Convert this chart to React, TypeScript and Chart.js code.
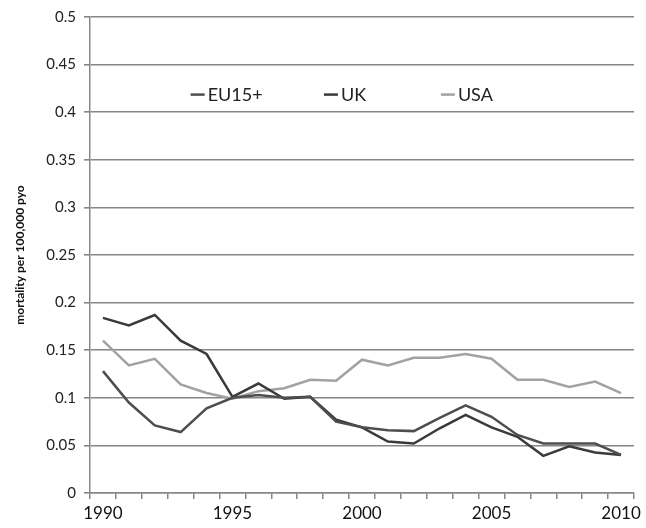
import React, { useEffect, useRef } from "react";
import { Chart, registerables } from "chart.js";

Chart.register(...registerables);

const years = [
  "1990", "1991", "1992", "1993", "1994", "1995", "1996", "1997", "1998", "1999", "2000",
  "2001", "2002", "2003", "2004", "2005", "2006", "2007", "2008", "2009", "2010",
];
const eu15 = [
  0.128, 0.095, 0.071, 0.064, 0.089, 0.1, 0.103, 0.1, 0.101, 0.075, 0.069,
  0.066, 0.065, 0.079, 0.092, 0.08, 0.061, 0.052, 0.052, 0.052, 0.04,
];
const uk = [
  0.184, 0.176, 0.187, 0.16, 0.146, 0.101, 0.115, 0.099, 0.101, 0.077, 0.069,
  0.054, 0.052, 0.068, 0.082, 0.069, 0.059, 0.039, 0.049, 0.0425, 0.04,
];
const usa = [
  0.16, 0.134, 0.141, 0.114, 0.105, 0.099, 0.107, 0.11, 0.119, 0.118, 0.14,
  0.134, 0.142, 0.142, 0.146, 0.141, 0.119, 0.119, 0.1115, 0.117, 0.105,
];
const seriesNames = ["EU15+", "UK", "USA"];
const seriesColors = ["#4e4e4e", "#3a3a3a", "#a2a2a2"];
const FONT = "Lato, 'Open Sans', sans-serif";

const insideLegend = {
  id: "insideLegend",
  afterDraw(chart: any) {
    const { ctx, chartArea } = chart;
    const w = chartArea.right - chartArea.left;
    const h = chartArea.bottom - chartArea.top;
    const fracs = [0.185, 0.43, 0.645];
    const y = chartArea.top + h * 0.163;
    ctx.save();
    ctx.font = `18px ${FONT}`;
    ctx.textBaseline = "middle";
    chart.data.datasets.forEach((ds: any, i: number) => {
      const x = chartArea.left + w * fracs[i];
      ctx.strokeStyle = ds.borderColor;
      ctx.lineWidth = 2.5;
      ctx.beginPath();
      ctx.moveTo(x, y);
      ctx.lineTo(x + 14, y);
      ctx.stroke();
      ctx.fillStyle = "#222";
      ctx.fillText(ds.label, x + 17, y + 1);
    });
    ctx.restore();
  },
};

export default function App() {
  const ref = useRef<HTMLCanvasElement | null>(null);
  useEffect(() => {
    document.body.style.margin = "0";
    const chart = new Chart(ref.current as HTMLCanvasElement, {
      type: "line",
      data: {
        labels: years,
        datasets: [eu15, uk, usa].map((d, i) => ({
          label: seriesNames[i],
          data: d,
          borderColor: seriesColors[i],
          backgroundColor: seriesColors[i],
          borderWidth: 2.5,
          pointRadius: 0,
          tension: 0,
          fill: false,
        })),
      },
      options: {
        animation: false,
        responsive: false,
        layout: { padding: { left: 0, right: 12, top: 10, bottom: 0 } },
        plugins: { legend: { display: false }, tooltip: { enabled: false } },
        scales: {
          x: {
            type: "category",
            offset: true,
            grid: {
              offset: true,
              drawOnChartArea: false,
              drawTicks: true,
              tickLength: 6,
              color: "#888",
              lineWidth: 1.5,
            },
            border: { color: "#888", width: 1.5 },
            ticks: {
              autoSkip: false,
              maxRotation: 0,
              color: "#111",
              font: { family: FONT, size: 17 },
              padding: 4,
              callback: (_v: any, i: number) => (i % 5 === 0 ? years[i] : ""),
            },
            afterFit: (s: any) => {
              s.height = 35;
            },
          },
          y: {
            min: 0,
            max: 0.5,
            grid: { color: "#868686", lineWidth: 1.6, tickLength: 6 },
            border: { color: "#888", width: 1.5 },
            ticks: {
              stepSize: 0.05,
              color: "#222",
              font: { family: FONT, size: 15 },
              padding: 8,
              callback: (v: any) => String(Number(Number(v).toFixed(2))),
            },
            title: {
              display: true,
              text: "mortality per 100,000 pyo",
              color: "#111",
              font: { family: FONT, size: 12, weight: "bold" },
              padding: { top: 13, bottom: 0 },
            },
            afterFit: (s: any) => {
              s.width = 90;
            },
          },
        },
      },
      plugins: [insideLegend],
    });
    return () => chart.destroy();
  }, []);
  return (
    <div style={{ width: 646, height: 528, background: "#fff" }}>
      <canvas ref={ref} width={646} height={528} style={{ display: "block" }} />
    </div>
  );
}
